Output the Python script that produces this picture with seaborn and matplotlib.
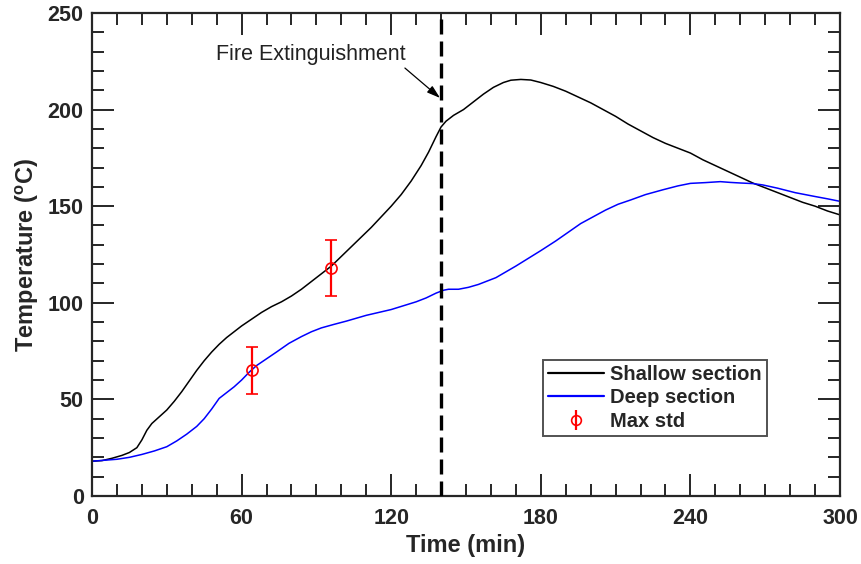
import numpy as np
import pandas as pd
import matplotlib
matplotlib.use("Agg")
import matplotlib.pyplot as plt
import seaborn as sns
from matplotlib.lines import Line2D
from matplotlib.ticker import MultipleLocator

# ---- data ----
shallow_t = [0, 4, 8, 12, 15, 18, 20, 22, 24, 27, 30, 33, 36, 39, 42, 45, 48, 51, 54,
             57, 60, 64, 68, 72, 76, 80, 84, 88, 92, 96, 100, 104, 108, 112, 116, 120,
             124, 128, 132, 135, 138, 140, 142, 145, 149, 153, 157, 161, 165, 168, 172,
             176, 180, 185, 190, 195, 200, 205, 210, 215, 220, 225, 230, 235, 240, 245,
             250, 255, 260, 265, 270, 275, 280, 285, 290, 295, 300]
shallow_T = [18, 18.3, 19.5, 21, 22.5, 25, 29, 34, 37.5, 41, 44.5, 49, 54, 59.5, 65, 70,
             74.5, 78.5, 82, 85, 88, 91.5, 95, 98, 100.5, 103.5, 107, 111, 115, 119, 124,
             129, 134, 139, 144.5, 150, 156, 163, 171, 178, 186, 191, 194, 197, 200, 204,
             208, 211.5, 214, 215.2, 215.6, 215.3, 214, 212, 209.5, 206.5, 203.5, 200,
             196.5, 192.5, 189, 185.5, 182.5, 180, 177.5, 174, 171, 168, 165, 162, 159.5,
             157, 154.5, 152, 150, 147.5, 145.5]

deep_t = [0, 5, 10, 15, 20, 25, 30, 34, 38, 42, 45, 48, 51, 54, 57, 60, 63, 66, 70, 74,
          79, 84, 88, 92, 97, 102, 110, 115, 120, 125, 130, 134, 138, 141, 143, 147, 151,
          155, 159, 162, 166, 170, 175, 180, 186, 191, 196, 201, 206, 211, 216, 222, 229,
          235, 240, 246, 252, 256, 260, 265, 269, 275, 282, 290, 295, 300]
deep_T = [18, 18.5, 19, 20, 21.5, 23.3, 25.5, 28.5, 32, 36, 40, 45, 50.5, 53.5, 56.5, 60,
          64, 67.5, 71, 74.5, 79, 82.5, 85, 87, 88.8, 90.5, 93.5, 95, 96.5, 98.5, 100.5,
          102.5, 105, 106.5, 107, 107, 108, 109.5, 111.5, 113, 116, 119, 123, 127, 132,
          136.5, 141, 144.5, 148, 151, 153.2, 156, 158.5, 160.5, 161.8, 162.2, 162.7,
          162.3, 162, 161.7, 161, 159.3, 157, 155, 153.8, 152.5]

std_t = [64, 96]
std_T = [65, 118]
std_err = [12.3, 14.5]

extinguish_t = 140
series_names = ["Shallow section", "Deep section"]
legend_labels = ["Shallow section", "Deep section", "Max std"]

# ---- styling ----
sns.set_style("white")
plt.rcParams["font.family"] = ["Liberation Sans", "DejaVu Sans"]
plt.rcParams["mathtext.fontset"] = "custom"
plt.rcParams["mathtext.rm"] = "Liberation Sans"
plt.rcParams["mathtext.bf"] = "Liberation Sans:bold"

df = pd.concat([
    pd.DataFrame({"Time": shallow_t, "Temp": shallow_T, "Series": series_names[0]}),
    pd.DataFrame({"Time": deep_t, "Temp": deep_T, "Series": series_names[1]}),
], ignore_index=True)

fig = plt.figure(figsize=(8.62, 5.64), dpi=100)
ax = fig.add_axes([0.1067, 0.1206, 0.8678, 0.8564])

sns.lineplot(data=df, x="Time", y="Temp", hue="Series",
             palette={series_names[0]: "black", series_names[1]: "#0000ff"},
             estimator=None, sort=False, linewidth=1.1, legend=False, ax=ax)

ax.axvline(extinguish_t, color="black", linewidth=2.4, dashes=(4.5, 2.1), zorder=3)

ax.errorbar(std_t, std_T, yerr=std_err, fmt="o", color="red", mfc="none",
            ms=8, mew=1.2, elinewidth=1.6, capsize=4.5, capthick=1.6, zorder=4)

ax.annotate("", xy=(139.6, 206), xytext=(125.5, 221.5),
            arrowprops=dict(arrowstyle="-|>,head_length=0.8,head_width=0.25",
                            color="black", lw=0.9, shrinkA=0, shrinkB=0))
ax.text(125.8, 228.5, "Fire Extinguishment", ha="right", va="center",
        fontsize=15.5, color="#222222")

ax.set_xlim(0, 300)
ax.set_ylim(0, 250)
ax.xaxis.set_major_locator(MultipleLocator(60))
ax.xaxis.set_minor_locator(MultipleLocator(10))
ax.yaxis.set_major_locator(MultipleLocator(50))
ax.yaxis.set_minor_locator(MultipleLocator(10))

edge = "#262626"
for sp in ax.spines.values():
    sp.set_color(edge)
    sp.set_linewidth(1.6)
    sp.set_visible(True)

ax.tick_params(which="both", direction="in", top=True, right=True,
               bottom=True, left=True,
               color=edge, width=1.4, labelcolor="#262626")
ax.tick_params(which="major", length=16)
ax.tick_params(which="minor", length=8.5)
ax.tick_params(axis="x", which="major", pad=9)
ax.tick_params(axis="y", which="major", pad=6)
for lab in ax.get_xticklabels() + ax.get_yticklabels():
    lab.set_fontweight("bold")
    lab.set_fontsize(15.5)

ax.set_xlabel("Time (min)", fontsize=17, fontweight="bold", color="#262626", labelpad=3)
ax.set_ylabel(r"Temperature ($^{\mathbf{o}}$C)", fontsize=17, fontweight="bold",
              color="#262626", labelpad=5)

eb_handle = ax.errorbar([], [], yerr=[], fmt="o", color="red", mfc="none",
                        ms=7, mew=1.2, elinewidth=1.6, capsize=6, capthick=1.6)
handles = [
    Line2D([], [], color="black", lw=1.6),
    Line2D([], [], color="#0000ff", lw=1.6),
    eb_handle,
]
leg = ax.legend(handles, legend_labels, loc="upper right",
                bbox_to_anchor=(0.902, 0.2816), borderaxespad=0,
                frameon=True, fancybox=False, edgecolor=edge,
                prop={"weight": "bold", "size": 14.5},
                handlelength=2.8, handletextpad=0.3, labelspacing=0.22,
                borderpad=0.25)
leg.get_frame().set_linewidth(1.4)

fig.savefig("out.png", dpi=100)
